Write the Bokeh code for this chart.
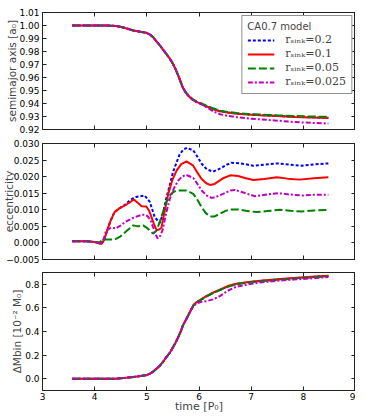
from bokeh.plotting import figure
from bokeh.layouts import column
from bokeh.models import (Legend, LegendItem, LinearAxis, FixedTicker, Range1d,
                          CustomLabelingPolicy)
from bokeh.embed import file_html
from bokeh.resources import INLINE

# ---------------- data ----------------
series_labels = ["rₛᵢₙₖ=0.2", "rₛᵢₙₖ=0.1", "rₛᵢₙₖ=0.05", "rₛᵢₙₖ=0.025"]
legend_title = "CA0.7 model"

# semimajor axis
t_sm = [3.57, 3.9, 4.2, 4.4, 4.55, 4.74, 4.9, 4.99, 5.06, 5.12, 5.18, 5.25, 5.31, 5.37,
        5.44, 5.5, 5.55, 5.6, 5.65, 5.69, 5.75, 5.82, 5.88, 5.95, 6.05, 6.14, 6.27, 6.4,
        6.55, 6.72, 6.95, 7.17, 7.5, 7.81, 8.15, 8.48]
sm_b = [1.0000, 1.0000, 1.0000, 0.9997, 0.9985, 0.9962, 0.9950, 0.9944, 0.9930, 0.9910,
        0.9880, 0.9847, 0.9815, 0.9783, 0.9745, 0.9706, 0.9665, 0.9617, 0.9565, 0.9522,
        0.9480, 0.9450, 0.9428, 0.9412, 0.9395, 0.9379, 0.9358, 0.9340, 0.9331, 0.9323,
        0.9316, 0.9311, 0.9304, 0.9299, 0.9294, 0.9291]
sm_r = [1.0000, 1.0000, 1.0000, 0.9997, 0.9985, 0.9962, 0.9950, 0.9944, 0.9930, 0.9910,
        0.9880, 0.9847, 0.9815, 0.9783, 0.9745, 0.9706, 0.9665, 0.9617, 0.9565, 0.9522,
        0.9480, 0.9450, 0.9428, 0.9412, 0.9395, 0.9379, 0.9358, 0.9340, 0.9330, 0.9322,
        0.9315, 0.9310, 0.9303, 0.9297, 0.9292, 0.9289]
sm_g = [1.0000, 1.0000, 1.0000, 0.9997, 0.9985, 0.9962, 0.9950, 0.9944, 0.9930, 0.9910,
        0.9880, 0.9847, 0.9815, 0.9783, 0.9745, 0.9706, 0.9665, 0.9617, 0.9567, 0.9526,
        0.9485, 0.9456, 0.9433, 0.9417, 0.9400, 0.9384, 0.9363, 0.9345, 0.9335, 0.9327,
        0.9320, 0.9315, 0.9309, 0.9304, 0.9300, 0.9297]
sm_m = [1.0000, 1.0000, 1.0000, 0.9997, 0.9985, 0.9962, 0.9950, 0.9944, 0.9930, 0.9910,
        0.9880, 0.9847, 0.9815, 0.9783, 0.9745, 0.9706, 0.9665, 0.9617, 0.9565, 0.9522,
        0.9480, 0.9450, 0.9428, 0.9412, 0.9393, 0.9372, 0.9340, 0.9318, 0.9305, 0.9295,
        0.9285, 0.9278, 0.9268, 0.9258, 0.9251, 0.9246]

# eccentricity
t_e_b = [3.57, 3.85, 4.0, 4.13, 4.18, 4.22, 4.3, 4.38, 4.48, 4.58, 4.67, 4.75, 4.83, 4.96,
         5.06, 5.15, 5.25, 5.31, 5.37, 5.44, 5.5, 5.57, 5.63, 5.7, 5.77, 5.89, 5.97, 6.05,
         6.15, 6.27, 6.4, 6.53, 6.62, 6.8, 7.04, 7.25, 7.49, 7.75, 7.97, 8.2, 8.48]
e_b = [0.0005, 0.0005, 0.0003, -0.0003, 0.0008, 0.0028, 0.0065, 0.0093, 0.0105, 0.0115,
       0.0128, 0.0136, 0.0140, 0.0143, 0.0123, 0.0078, 0.0060, 0.0090, 0.0133, 0.0175,
       0.0213, 0.0243, 0.0267, 0.0282, 0.0287, 0.0279, 0.0260, 0.0239, 0.0222, 0.0215,
       0.0224, 0.0236, 0.0242, 0.0240, 0.0233, 0.0236, 0.0240, 0.0236, 0.0233, 0.0237, 0.0240]
t_e_r = [3.57, 3.85, 4.0, 4.13, 4.18, 4.22, 4.3, 4.38, 4.48, 4.58, 4.67, 4.75, 4.82, 4.9,
         4.99, 5.04, 5.09, 5.14, 5.19, 5.23, 5.28, 5.34, 5.41, 5.49, 5.57, 5.66, 5.76, 5.89,
         5.97, 6.05, 6.14, 6.21, 6.3, 6.46, 6.6, 6.75, 6.9, 7.04, 7.25, 7.49, 7.7, 7.93,
         8.2, 8.48]
e_r = [0.0005, 0.0005, 0.0003, -0.0003, 0.0008, 0.0028, 0.0065, 0.0093, 0.0105, 0.0113,
       0.0122, 0.0131, 0.0122, 0.0111, 0.0110, 0.0098, 0.0078, 0.0055, 0.0038, 0.0040,
       0.0046, 0.0095, 0.0148, 0.0190, 0.0218, 0.0238, 0.0246, 0.0233, 0.0212, 0.0193,
       0.0180, 0.0175, 0.0178, 0.0195, 0.0204, 0.0202, 0.0195, 0.0190, 0.0193, 0.0198,
       0.0194, 0.0191, 0.0195, 0.0198]
t_e_g = [3.57, 3.85, 4.0, 4.1, 4.15, 4.38, 4.48, 4.61, 4.74, 4.83, 4.93, 5.02, 5.12, 5.18,
         5.24, 5.31, 5.37, 5.44, 5.5, 5.57, 5.76, 5.89, 5.97, 6.05, 6.13, 6.21, 6.3, 6.4,
         6.5, 6.59, 6.75, 6.9, 7.1, 7.3, 7.55, 7.75, 7.97, 8.2, 8.48]
e_g = [0.0005, 0.0005, 0.0003, 0.0002, 0.0010, 0.0010, 0.0018, 0.0036, 0.0053, 0.0050,
       0.0053, 0.0043, 0.0028, 0.0036, 0.0060, 0.0093, 0.0122, 0.0143, 0.0153, 0.0158,
       0.0158, 0.0148, 0.0130, 0.0108, 0.0090, 0.0080, 0.0080, 0.0088, 0.0096, 0.0101,
       0.0101, 0.0097, 0.0093, 0.0096, 0.0100, 0.0097, 0.0095, 0.0098, 0.0100]
t_e_m = [3.57, 3.85, 4.0, 4.13, 4.18, 4.22, 4.32, 4.41, 4.5, 4.58, 4.74, 4.9, 4.97, 5.02,
         5.07, 5.12, 5.17, 5.21, 5.26, 5.31, 5.37, 5.44, 5.52, 5.6, 5.68, 5.76, 5.89, 5.97,
         6.05, 6.15, 6.24, 6.3, 6.46, 6.6, 6.69, 6.85, 7.07, 7.3, 7.52, 7.75, 7.97, 8.2, 8.48]
e_m = [0.0005, 0.0005, 0.0003, -0.0002, 0.0015, 0.0038, 0.0046, 0.0044, 0.0053, 0.0063,
       0.0076, 0.0085, 0.0085, 0.0080, 0.0068, 0.0048, 0.0025, 0.0013, 0.0022, 0.0043,
       0.0090, 0.0133, 0.0165, 0.0188, 0.0201, 0.0205, 0.0196, 0.0178, 0.0158, 0.0143,
       0.0136, 0.0137, 0.0148, 0.0158, 0.0160, 0.0152, 0.0141, 0.0146, 0.0150, 0.0146,
       0.0143, 0.0145, 0.0145]

# accreted mass
t_dm = [3.57, 4.0, 4.4, 4.55, 4.75, 4.99, 5.06, 5.12, 5.18, 5.25, 5.31, 5.37, 5.44, 5.5,
        5.55, 5.6, 5.65, 5.69, 5.75, 5.79, 5.84, 5.89, 5.95, 6.05, 6.14, 6.27, 6.4, 6.55,
        6.72, 6.95, 7.17, 7.5, 7.81, 8.15, 8.48]
dm_b = [0.0, 0.0, 0.0, 0.005, 0.015, 0.03, 0.042, 0.06, 0.083, 0.11, 0.142, 0.18, 0.22,
        0.265, 0.305, 0.35, 0.40, 0.45, 0.50, 0.534, 0.578, 0.62, 0.648, 0.674, 0.698,
        0.728, 0.752, 0.782, 0.803, 0.818, 0.828, 0.840, 0.851, 0.861, 0.871]
dm_r = [0.0, 0.0, 0.0, 0.005, 0.015, 0.03, 0.042, 0.06, 0.083, 0.11, 0.142, 0.18, 0.22,
        0.265, 0.305, 0.35, 0.40, 0.45, 0.50, 0.534, 0.578, 0.62, 0.648, 0.675, 0.70,
        0.73, 0.755, 0.785, 0.805, 0.82, 0.83, 0.842, 0.853, 0.863, 0.873]
dm_g = [0.0, 0.0, 0.0, 0.005, 0.015, 0.03, 0.042, 0.06, 0.083, 0.11, 0.142, 0.18, 0.22,
        0.265, 0.305, 0.35, 0.40, 0.45, 0.50, 0.534, 0.578, 0.618, 0.645, 0.672, 0.695,
        0.725, 0.75, 0.778, 0.80, 0.815, 0.826, 0.838, 0.849, 0.859, 0.869]
dm_m = [0.0, 0.0, 0.0, 0.005, 0.015, 0.03, 0.042, 0.06, 0.083, 0.11, 0.142, 0.18, 0.22,
        0.265, 0.305, 0.35, 0.40, 0.45, 0.50, 0.534, 0.575, 0.615, 0.638, 0.652, 0.657,
        0.672, 0.70, 0.745, 0.78, 0.80, 0.815, 0.83, 0.84, 0.85, 0.862]

# ticks
x_ticks = [3, 4, 5, 6, 7, 8, 9]
x_tick_labels = ["3", "4", "5", "6", "7", "8", "9"]
sm_ticks = [0.92, 0.93, 0.94, 0.95, 0.96, 0.97, 0.98, 0.99, 1.00, 1.01]
sm_tick_labels = ["0.92", "0.93", "0.94", "0.95", "0.96", "0.97", "0.98", "0.99", "1.00", "1.01"]
e_ticks = [-0.005, 0.0, 0.005, 0.01, 0.015, 0.02, 0.025, 0.03]
e_tick_labels = ["−0.005", "0.000", "0.005", "0.010", "0.015", "0.020", "0.025", "0.030"]
dm_ticks = [0.0, 0.2, 0.4, 0.6, 0.8]
dm_tick_labels = ["0.0", "0.2", "0.4", "0.6", "0.8"]

# ---------------- styles ----------------
colors = ["#0000ff", "#ff0000", "#008000", "#bf00bf"]
dashes = ["3 2", "solid", "8 3", "5 2 2 2"]
FONT = "DejaVu Sans"
W = 355
LEFT = 42
RIGHT = 0


def style_axis(ax, ticks, labels, show_labels):
    ax.ticker = FixedTicker(ticks=ticks)
    ax.major_tick_in = 4
    ax.major_tick_out = 0
    ax.minor_tick_line_color = None
    ax.axis_line_color = "#222222"
    ax.major_tick_line_color = "#222222"
    ax.major_label_text_font = FONT
    ax.major_label_text_color = "black"
    if show_labels:
        ax.major_label_overrides = {t: l for t, l in zip(ticks, labels)}
        ax.major_label_standoff = 3
        ax.major_label_text_font_size = "9px"
    else:
        ax.major_label_overrides = {t: "" for t in ticks}
        ax.major_label_standoff = 0
        ax.major_label_text_font_size = "0px"
        ax.major_label_policy = CustomLabelingPolicy(
            code="for (const i of Array.from(indices)) { indices.unset(i) }")


def make_fig(height, top, bottom, yr, yticks, ylabels, ylabel, ystandoff, show_x):
    p = figure(width=W, height=height, output_backend="svg", toolbar_location=None,
               x_range=Range1d(3, 9), y_range=Range1d(*yr),
               min_border_left=LEFT, min_border_right=RIGHT,
               min_border_top=top, min_border_bottom=bottom)
    p.grid.visible = False
    p.outline_line_color = "#222222"
    p.background_fill_color = "white"
    p.border_fill_color = "white"
    ax_below = p.below[0]
    style_axis(ax_below, x_ticks, x_tick_labels, show_x)
    ax_left = p.left[0]
    style_axis(ax_left, yticks, ylabels, True)
    ax_left.axis_label = ylabel
    ax_left.axis_label_text_font = FONT
    ax_left.axis_label_text_font_size = "10.5px"
    ax_left.axis_label_text_font_style = "normal"
    ax_left.axis_label_standoff = ystandoff
    ax_top = LinearAxis()
    style_axis(ax_top, x_ticks, x_tick_labels, False)
    p.add_layout(ax_top, "above")
    ax_right = LinearAxis()
    style_axis(ax_right, yticks, ylabels, False)
    p.add_layout(ax_right, "right")
    return p, ax_below


# top panel
p1, _ = make_fig(136, 12, 7, (0.92, 1.01), sm_ticks, sm_tick_labels,
                 "semimajor axis [a₀]", -2, False)
rs = []
for y, c, d in zip([sm_b, sm_r, sm_g, sm_m], colors, dashes):
    rs.append(p1.line(t_sm, y, line_color=c, line_width=2, line_dash=d))
legend = Legend(items=[LegendItem(label=l, renderers=[r]) for l, r in zip(series_labels, rs)],
                location="top_right", title=legend_title)
legend.title_text_font = FONT
legend.title_text_font_size = "10px"
legend.title_text_font_style = "normal"
legend.title_standoff = 1
legend.label_text_font = "DejaVu Serif"
legend.label_text_font_size = "11px"
legend.label_height = 10
legend.glyph_height = 10
legend.glyph_width = 27
legend.label_standoff = 11
legend.spacing = 1
legend.padding = 5
legend.margin = 3
legend.border_line_color = "#222222"
legend.border_line_width = 1
legend.background_fill_alpha = 1.0
p1.add_layout(legend, "center")

# middle panel
p2, _ = make_fig(129, 7, 6, (-0.005, 0.030), e_ticks, e_tick_labels,
                 "eccentricity", -12, False)
for t, y, c, d in zip([t_e_b, t_e_r, t_e_g, t_e_m], [e_b, e_r, e_g, e_m], colors, dashes):
    p2.line(t, y, line_color=c, line_width=2, line_dash=d)

# bottom panel
p3, xax3 = make_fig(151, 7, 26, (-0.1, 0.9), dm_ticks, dm_tick_labels,
                    "ΔMbin [10⁻² M₀]", -1, True)
for y, c, d in zip([dm_b, dm_r, dm_g, dm_m], colors, dashes):
    p3.line(t_dm, y, line_color=c, line_width=2, line_dash=d)
xax3.major_label_standoff = 2
xax3.axis_label = "time [P₀]"
xax3.axis_label_text_font = FONT
xax3.axis_label_text_font_size = "11px"
xax3.axis_label_text_font_style = "normal"
xax3.axis_label_standoff = -3

layout = column(p1, p2, p3, spacing=0)
open("out.html", "w").write(file_html(layout, INLINE))
